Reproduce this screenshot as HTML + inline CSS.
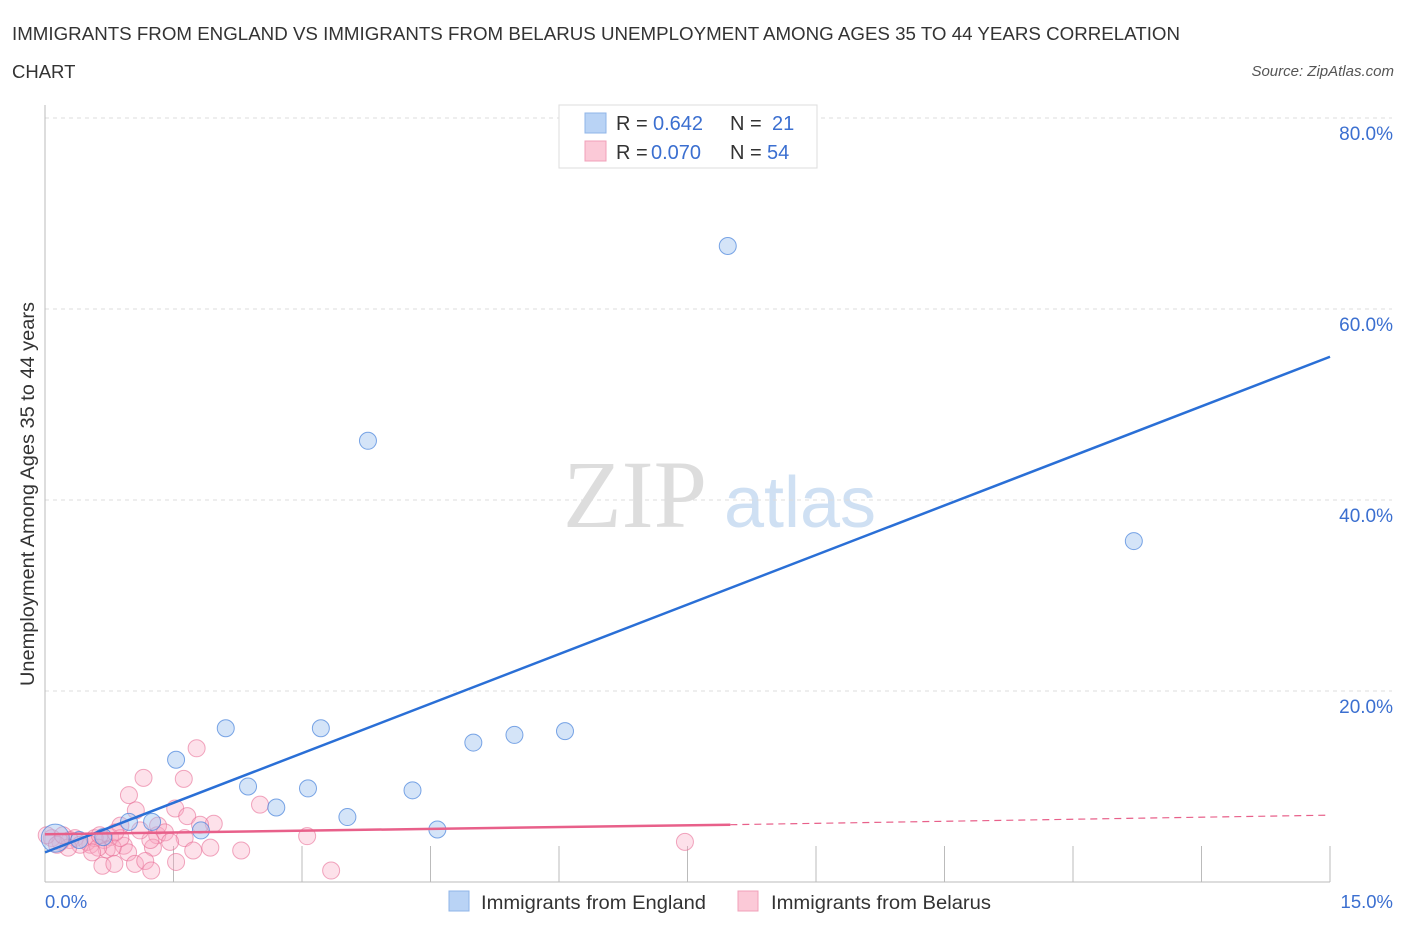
<!DOCTYPE html>
<html><head><meta charset="utf-8"><style>
body{margin:0;background:#fff;font-family:"Liberation Sans",sans-serif;}
svg{display:block}
</style></head><body>
<svg id="chart" width="1406" height="930">
<text x="12" y="40" font-size="18.5" fill="#333" textLength="1168" lengthAdjust="spacingAndGlyphs">IMMIGRANTS FROM ENGLAND VS IMMIGRANTS FROM BELARUS UNEMPLOYMENT AMONG AGES 35 TO 44 YEARS CORRELATION</text>
<text x="12" y="78" font-size="18.5" fill="#333">CHART</text>
<text x="1394" y="76" font-size="15" fill="#555" font-style="italic" text-anchor="end">Source: ZipAtlas.com</text>
<text x="635" y="527" font-size="96" fill="#ddd" font-family="Liberation Serif,serif" text-anchor="middle">ZIP</text>
<text x="800" y="527" font-size="72" fill="#cfe0f3" text-anchor="middle">atlas</text>
<text transform="translate(34,494) rotate(-90)" font-size="19" fill="#333" text-anchor="middle" textLength="384" lengthAdjust="spacingAndGlyphs">Unemployment Among Ages 35 to 44 years</text>
<g id="grid"></g><g id="marks"></g>
<g>
<rect x="559" y="105" width="258" height="63" fill="#fff" stroke="#ddd"/>
<rect x="585" y="113" width="21" height="20" fill="#b9d3f5" stroke="#8fb5e8"/>
<rect x="585" y="141" width="21" height="20" fill="#fbc9d7" stroke="#f0a0b8"/>
<text x="616" y="130" font-size="20" fill="#333">R = </text><text x="653" y="130" font-size="20" fill="#3b6fd0">0.642</text>
<text x="730" y="130" font-size="20" fill="#333">N = </text><text x="772" y="130" font-size="20" fill="#3b6fd0">21</text>
<text x="616" y="159" font-size="20" fill="#333">R = </text><text x="651" y="159" font-size="20" fill="#3b6fd0">0.070</text>
<text x="730" y="159" font-size="20" fill="#333">N = </text><text x="767" y="159" font-size="20" fill="#3b6fd0">54</text>
</g>
<g>
<rect x="449" y="891" width="20" height="20" fill="#b9d3f5" stroke="#8fb5e8"/>
<text x="481" y="909" font-size="19.5" fill="#333" textLength="225" lengthAdjust="spacingAndGlyphs">Immigrants from England</text>
<rect x="738" y="891" width="20" height="20" fill="#fbc9d7" stroke="#f0a0b8"/>
<text x="771" y="909" font-size="19.5" fill="#333" textLength="220" lengthAdjust="spacingAndGlyphs">Immigrants from Belarus</text>
</g>
<text x="45" y="908" font-size="18.5" fill="#3b6fd0">0.0%</text>
<text x="1393" y="908" font-size="18.5" fill="#3b6fd0" text-anchor="end">15.0%</text>
</svg>
<script>
const yTicks=[20,40,60,80];
const xTickVals=[0,1.5,3,4.5,6,7.5,9,10.5,12,13.5,15];
const engX=[7.97,3.77,12.71,2.11,3.22,6.07,5.48,5.0,1.53,2.37,3.07,2.7,4.29,3.53,4.58,1.82,1.25,0.98,0.12,0.4,0.68];
const engY=[66.6,46.2,35.7,16.1,16.1,15.8,15.4,14.6,12.8,10.0,9.8,7.8,9.6,6.8,5.5,5.4,6.3,6.3,4.6,4.4,4.7];
const belX=[1.77,1.15,1.62,0.98,1.52,1.06,2.51,1.66,1.97,0.88,1.31,0.76,1.63,1.32,1.4,0.69,0.35,0.53,0.29,0.18,0.08,0.02,0.72,0.92,0.97,0.79,1.26,1.73,1.93,2.29,3.06,7.47,3.34,0.67,0.81,1.05,1.17,1.53,1.24,0.49,0.41,0.58,0.62,0.27,0.88,0.14,0.21,0.55,0.64,1.23,1.46,1.81,1.11,0.82];
const belY=[14.0,10.9,10.8,9.1,7.7,7.5,8.1,6.9,6.1,5.9,4.9,4.7,4.6,5.9,5.2,4.4,4.6,3.9,4.4,4.2,4.6,4.9,3.4,3.8,3.1,3.6,3.6,3.3,3.6,3.3,4.8,4.2,1.2,1.7,1.9,1.9,2.2,2.1,1.2,4.2,3.9,4.6,3.6,3.6,4.6,3.9,4.9,3.1,4.9,4.4,4.2,6.0,5.4,5.2];
const engLine=[0,3.1,15,55.0];
const belLine=[0,5.0,8.0,6.0,15,7.0];
const X=v=>45+v/15*1285, Y=v=>882-v/20*191;
const NS="http://www.w3.org/2000/svg";
function mk(t,a,p){const e=document.createElementNS(NS,t);for(const k in a)e.setAttribute(k,a[k]);p.appendChild(e);return e;}
const g=document.getElementById('grid'), m=document.getElementById('marks');
yTicks.forEach(v=>{
 const l=mk('line',{x1:45,x2:1392,y1:Y(v),y2:Y(v),stroke:'#ddd','stroke-dasharray':'4 4'},g);
 
 
 const t=mk('text',{x:1393,y:Y(v)+22,'font-size':19,fill:'#3b6fd0','text-anchor':'end'},g);t.textContent=v.toFixed(1)+'%';
 
 
});
const ax=mk('line',{x1:45,x2:1330,y1:882,y2:882,stroke:'#bbb'},g);


const ay=mk('line',{x1:45,x2:45,y1:105,y2:882,stroke:'#bbb'},g);


xTickVals.slice(1).forEach(v=>{const t=mk('line',{x1:X(v),x2:X(v),y1:846,y2:882,stroke:'#bbb'},g);
 
 });
belX.forEach((x,i)=>{const c=mk('circle',{cx:X(x),cy:Y(belY[i]),r:8.5,fill:'rgba(248,170,195,0.35)',stroke:'rgba(232,110,150,0.6)'},m);
 
 });
engX.forEach((x,i)=>{const c=mk('circle',{cx:X(x),cy:Y(engY[i]),r:i==18?14:8.5,fill:'rgba(160,195,240,0.45)',stroke:'rgba(70,130,220,0.7)'},m);
 
 });
const bl=mk('line',{x1:X(engLine[0]),y1:Y(engLine[1]),x2:X(engLine[2]),y2:Y(engLine[3]),stroke:'#2a6fd6','stroke-width':2.5},m);


const pl=mk('line',{x1:X(belLine[0]),y1:Y(belLine[1]),x2:X(belLine[2]),y2:Y(belLine[3]),stroke:'#e8608a','stroke-width':2.5},m);


const pd=mk('line',{x1:X(belLine[2]),y1:Y(belLine[3]),x2:X(belLine[4]),y2:Y(belLine[5]),stroke:'#e8608a','stroke-width':1.2,'stroke-dasharray':'7 5'},m);


</script>
</body></html>
